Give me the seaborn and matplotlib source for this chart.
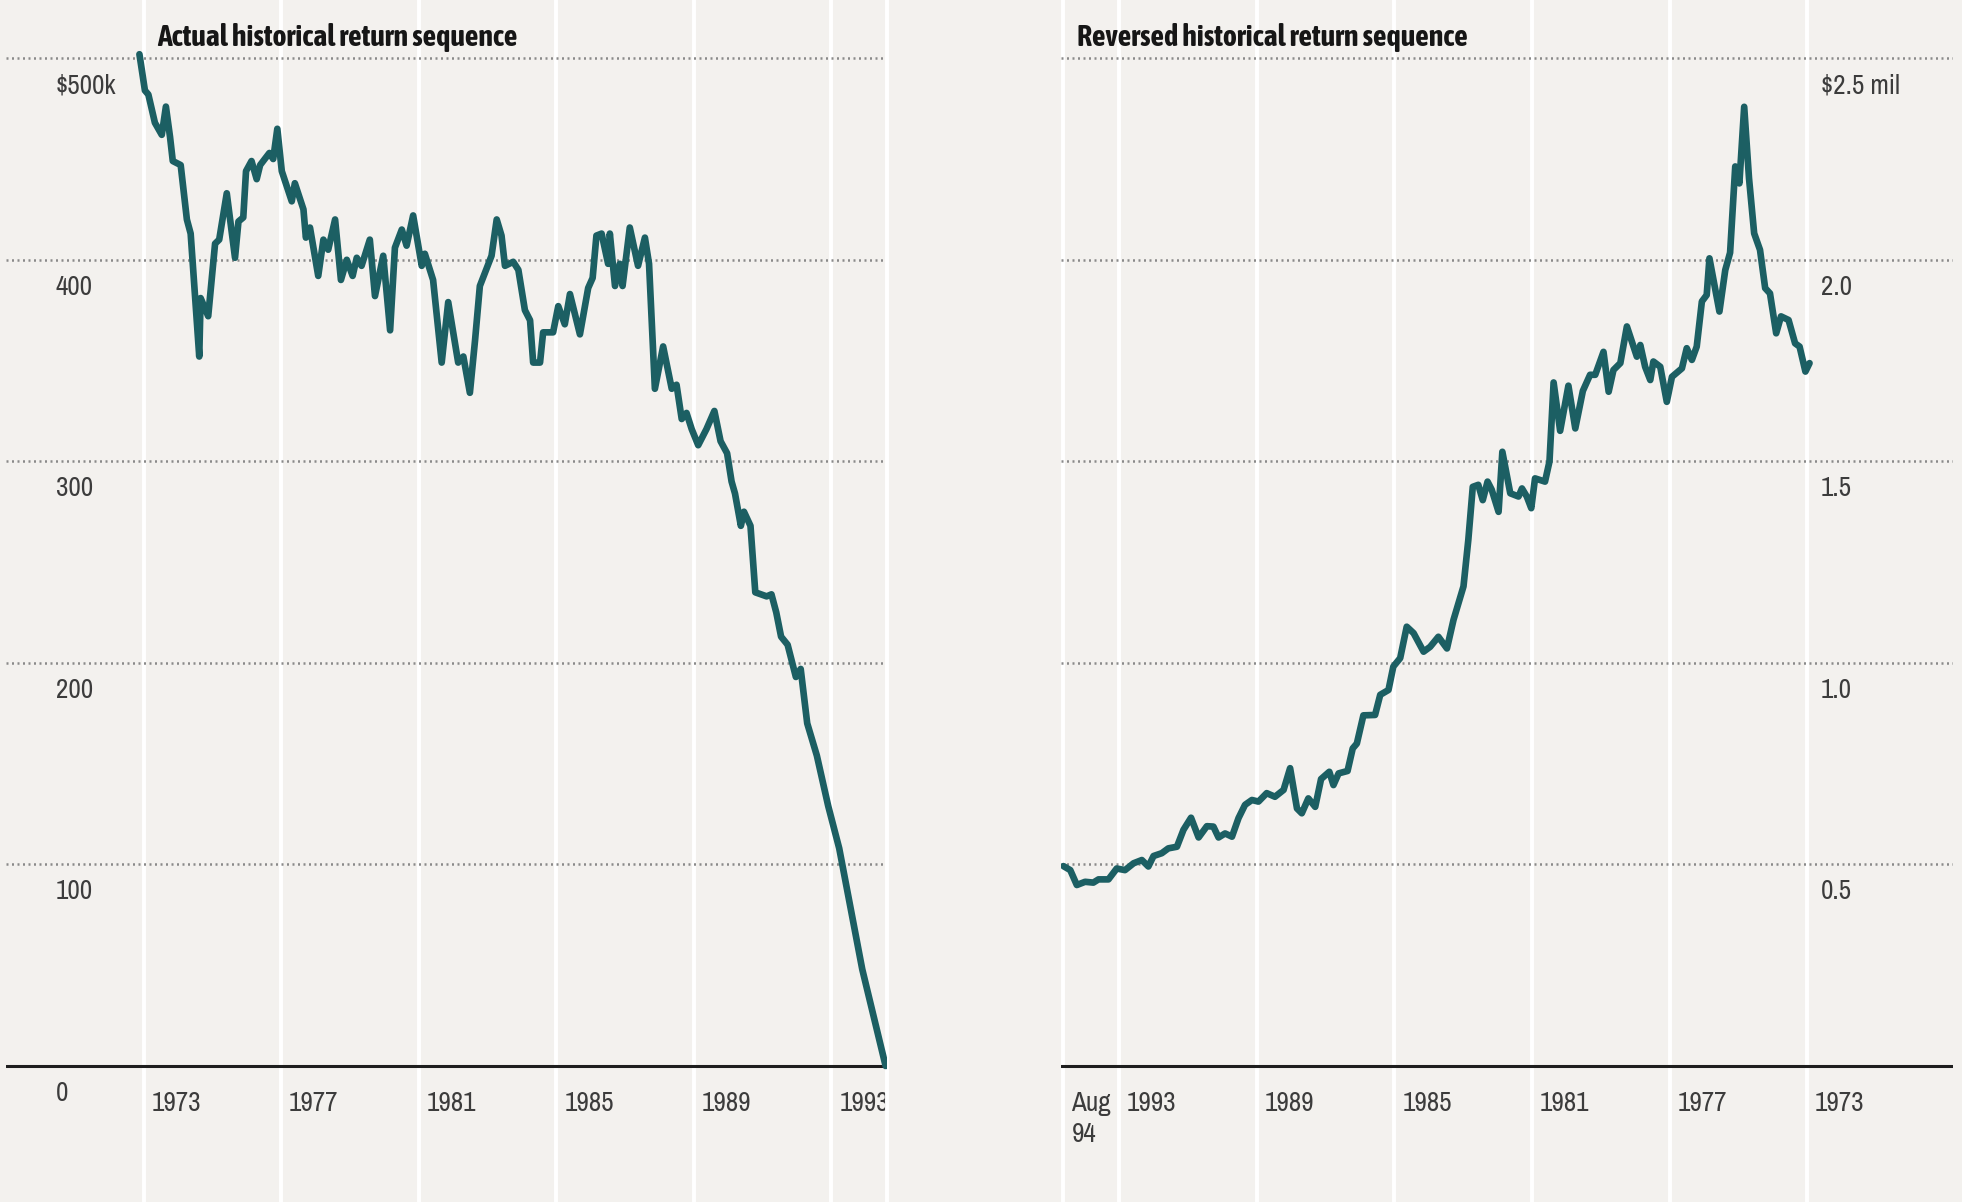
# Two panels: $500k retirement portfolio, actual vs reversed return sequence
import matplotlib
matplotlib.use("Agg")
import matplotlib.pyplot as plt
import seaborn as sns
from matplotlib import font_manager
from matplotlib.transforms import ScaledTranslation

# --- data (decimal years, $k and $mil) ---
actual_years = [1972.88, 1973.04, 1973.14, 1973.33, 1973.53, 1973.65, 1973.77, 1973.85,
                1974.08, 1974.26, 1974.37, 1974.62, 1974.66, 1974.88, 1975.08, 1975.20,
                1975.42, 1975.66, 1975.76, 1975.90, 1975.98, 1976.14, 1976.29, 1976.39,
                1976.66, 1976.77, 1976.89, 1977.02, 1977.31, 1977.40, 1977.65, 1977.72,
                1977.84, 1978.08, 1978.23, 1978.37, 1978.57, 1978.74, 1978.91, 1979.08,
                1979.20, 1979.34, 1979.58, 1979.73, 1979.97, 1980.17, 1980.31, 1980.51,
                1980.65, 1980.84, 1981.09, 1981.18, 1981.42, 1981.67, 1981.86, 1982.15,
                1982.30, 1982.49, 1982.64, 1982.78, 1983.12, 1983.27, 1983.41, 1983.51,
                1983.75, 1983.90, 1984.09, 1984.24, 1984.33, 1984.53, 1984.62, 1984.91,
                1985.06, 1985.25, 1985.40, 1985.69, 1985.93, 1986.06, 1986.17, 1986.32,
                1986.51, 1986.56, 1986.71, 1986.85, 1986.93, 1987.14, 1987.38, 1987.58,
                1987.70, 1987.87, 1988.11, 1988.36, 1988.50, 1988.65, 1988.79, 1988.94,
                1989.13, 1989.37, 1989.60, 1989.78, 1989.97, 1990.10, 1990.20, 1990.37,
                1990.46, 1990.65, 1990.79, 1991.12, 1991.26, 1991.40, 1991.54, 1991.73,
                1991.97, 1992.11, 1992.30, 1992.58, 1992.91, 1993.23, 1993.90, 1994.58]
actual_values = [502, 484, 482, 468, 462, 476, 461, 449,
                 447, 420, 413, 352, 381, 372, 408, 410,
                 433, 401, 419, 421, 444, 449, 440, 447,
                 453, 450, 465, 444, 429, 438, 425, 411,
                 416, 392, 410, 405, 420, 390, 400, 392,
                 401, 397, 410, 382, 402, 365, 406, 415,
                 407, 422, 397, 403, 390, 349, 379, 349,
                 352, 334, 360, 387, 402, 420, 412, 397,
                 399, 395, 375, 370, 349, 349, 364, 364,
                 377, 368, 383, 363, 386, 391, 412, 413,
                 398, 413, 387, 398, 387, 416, 397, 411,
                 398, 336, 357, 336, 338, 321, 324, 316,
                 308, 316, 325, 310, 304, 290, 284, 268,
                 275, 268, 235, 233, 234, 225, 213, 209,
                 193, 197, 170, 154, 129, 108, 48, 0]

reversed_years = [1994.62, 1994.42, 1994.23, 1993.99, 1993.75, 1993.60, 1993.31, 1993.07,
                  1992.83, 1992.58, 1992.34, 1992.15, 1992.00, 1991.76, 1991.57, 1991.32,
                  1991.13, 1990.91, 1990.69, 1990.45, 1990.26, 1990.11, 1989.92, 1989.72,
                  1989.53, 1989.34, 1989.14, 1988.95, 1988.71, 1988.47, 1988.22, 1988.03,
                  1987.83, 1987.69, 1987.50, 1987.30, 1987.13, 1986.89, 1986.77, 1986.62,
                  1986.36, 1986.21, 1986.09, 1985.90, 1985.56, 1985.41, 1985.17, 1985.03,
                  1984.83, 1984.64, 1984.44, 1984.15, 1983.96, 1983.72, 1983.47, 1983.28,
                  1982.99, 1982.85, 1982.72, 1982.56, 1982.43, 1982.29, 1982.17, 1981.97,
                  1981.86, 1981.63, 1981.39, 1981.29, 1981.15, 1981.02, 1980.91, 1980.62,
                  1980.49, 1980.37, 1980.18, 1979.94, 1979.74, 1979.52, 1979.31, 1979.16,
                  1978.92, 1978.77, 1978.63, 1978.43, 1978.24, 1977.95, 1977.85, 1977.71,
                  1977.56, 1977.47, 1977.27, 1977.08, 1976.93, 1976.64, 1976.50, 1976.35,
                  1976.21, 1976.06, 1975.92, 1975.84, 1975.55, 1975.38, 1975.24, 1975.09,
                  1974.97, 1974.83, 1974.69, 1974.54, 1974.37, 1974.22, 1974.08, 1973.90,
                  1973.76, 1973.54, 1973.35, 1973.22, 1973.05, 1972.93]
reversed_values = [0.496, 0.486, 0.449, 0.457, 0.455, 0.463, 0.463, 0.490,
                   0.486, 0.503, 0.511, 0.495, 0.521, 0.528, 0.540, 0.544,
                   0.586, 0.616, 0.567, 0.595, 0.594, 0.567, 0.577, 0.569,
                   0.615, 0.648, 0.660, 0.656, 0.677, 0.668, 0.685, 0.739,
                   0.639, 0.627, 0.664, 0.643, 0.712, 0.730, 0.697, 0.726,
                   0.732, 0.788, 0.800, 0.870, 0.871, 0.921, 0.933, 0.991,
                   1.012, 1.090, 1.074, 1.028, 1.040, 1.065, 1.036, 1.107,
                   1.190, 1.305, 1.437, 1.442, 1.404, 1.450, 1.430, 1.375,
                   1.524, 1.421, 1.413, 1.433, 1.413, 1.384, 1.458, 1.450,
                   1.500, 1.696, 1.576, 1.688, 1.582, 1.675, 1.715, 1.715,
                   1.772, 1.673, 1.727, 1.744, 1.835, 1.760, 1.789, 1.735,
                   1.702, 1.748, 1.735, 1.648, 1.710, 1.731, 1.781, 1.752,
                   1.785, 1.897, 1.913, 2.004, 1.872, 1.975, 2.018, 2.232,
                   2.190, 2.380, 2.203, 2.066, 2.025, 1.930, 1.917, 1.818,
                   1.860, 1.851, 1.793, 1.785, 1.723, 1.744]

actual_xticks = [1973, 1977, 1981, 1985, 1989, 1993]
actual_xlabels = ["1973", "1977", "1981", "1985", "1989", "1993"]
actual_yticks = [0, 100, 200, 300, 400, 500]
actual_ylabels = ["0", "100", "200", "300", "400", "$500k"]

end_year = 1994.62  # Aug 94
reversed_xticks = [end_year, 1993, 1989, 1985, 1981, 1977, 1973]
reversed_xlabels = ["Aug\n94", "1993", "1989", "1985", "1981", "1977", "1973"]
reversed_yticks = [0, 0.5, 1.0, 1.5, 2.0, 2.5]
reversed_ylabels = ["", "0.5", "1.0", "1.5", "2.0", "$2.5 mil"]

bg = "#f3f1ee"
teal = "#1c5f63"
dots = "#8a8a8a"
label_color = "#3c3c3c"

sns.set_style("white", {"axes.facecolor": bg, "figure.facecolor": bg})


# the original uses a condensed face; take one if the box has it
def wnum(w):
    if isinstance(w, (int, float)):
        return w
    return font_manager.weight_dict.get(w, 400)


fonts = font_manager.fontManager.ttflist
narrow_faces = [f for f in fonts if ("Narrow" in f.name or "Condensed" in f.name)
                and f.style == "normal"]
narrow = sorted({f.name for f in narrow_faces})
if narrow:
    plt.rcParams["font.family"] = [narrow[0], "DejaVu Sans"]
    tick_size = 19.5
else:
    plt.rcParams["font.family"] = ["Liberation Sans", "DejaVu Sans"]
    tick_size = 17

# heavy condensed face for the panel titles
bold_faces = [f for f in narrow_faces if 650 <= wnum(f.weight) <= 900]
if bold_faces:
    def score(f):
        extra = ("Semi" in f.name) + ("Extra" in f.name) + ("Ultra" in f.name)
        return (extra, abs(wnum(f.weight) - 750))
    bf = sorted(bold_faces, key=score)[0]
    title_font = font_manager.FontProperties(fname=bf.fname)
else:
    title_font = font_manager.FontProperties(family=["Liberation Sans", "DejaVu Sans"],
                                             weight="bold")

fig = plt.figure(figsize=(19.62, 12.02), dpi=100)
fig.patch.set_facecolor(bg)

axL = fig.add_axes([6 / 1962, 0, 881 / 1962, 1])
axR = fig.add_axes([1061 / 1962, 0, 892 / 1962, 1])


def style_axes(ax):
    ax.set_facecolor(bg)
    for s in ax.spines.values():
        s.set_visible(False)
    ax.set_axisbelow(True)
    ax.xaxis.grid(True, color="white", lw=2.8)
    ax.yaxis.grid(True, color=dots, lw=1.8, ls=(0, (0.8, 1.4)))
    ax.tick_params(axis="both", length=0, labelsize=tick_size, labelcolor=label_color)


# left panel
sns.lineplot(x=actual_years, y=actual_values, ax=axL, color=teal, lw=4.8,
             estimator=None, solid_capstyle="round", solid_joinstyle="round", zorder=3)
style_axes(axL)
axL.set_xlim(1969.0, end_year)
axL.set_ylim(-67.5, 528.9)
axL.set_xticks(actual_xticks, actual_xlabels)
axL.set_yticks(actual_yticks, actual_ylabels)
axL.axhline(0, color="#1e1e1e", lw=2.2, zorder=2)
axL.axvline(end_year, color="white", lw=2.8, zorder=0.8, clip_on=False)
axL.tick_params(axis="x", pad=-80)
axL.tick_params(axis="y", pad=-36)

# right panel
sns.lineplot(x=reversed_years, y=reversed_values, ax=axR, color=teal, lw=4.8,
             estimator=None, solid_capstyle="round", solid_joinstyle="round", zorder=3)
style_axes(axR)
axR.set_xlim(1994.69, 1968.76)
axR.set_ylim(-0.3375, 2.645)
axR.set_xticks(reversed_xticks, reversed_xlabels)
axR.set_yticks(reversed_yticks, reversed_ylabels)
axR.yaxis.tick_right()
axR.axhline(0, color="#1e1e1e", lw=2.2, zorder=2)
axR.tick_params(axis="x", pad=-80)
axR.tick_params(axis="y", pad=-95)

for ax in (axL, axR):
    ax.set_xlabel("")
    ax.set_ylabel("")
    for lbl in ax.get_xticklabels():
        lbl.set_ha("left")
        lbl.set_linespacing(1.3)
        lbl.set_transform(lbl.get_transform() + ScaledTranslation(0.08, 0, fig.dpi_scale_trans))
    for lbl in ax.get_yticklabels():
        lbl.set_ha("left")
        lbl.set_transform(lbl.get_transform() + ScaledTranslation(0, -0.25, fig.dpi_scale_trans))

# titles, sized so their width matches the reference
titles = [("Actual historical return sequence", 157, 361),
          ("Reversed historical return sequence", 1077, 392)]
renderer = fig.canvas.get_renderer()
for text, x_px, width_px in titles:
    t = fig.text(x_px / 1962, 1 - 37 / 1202, text, fontproperties=title_font,
                 fontsize=16, va="center", color="#161616")
    w = t.get_window_extent(renderer).width
    t.set_fontsize(16 * width_px / w)

fig.savefig("out.png", dpi=100, facecolor=bg)
